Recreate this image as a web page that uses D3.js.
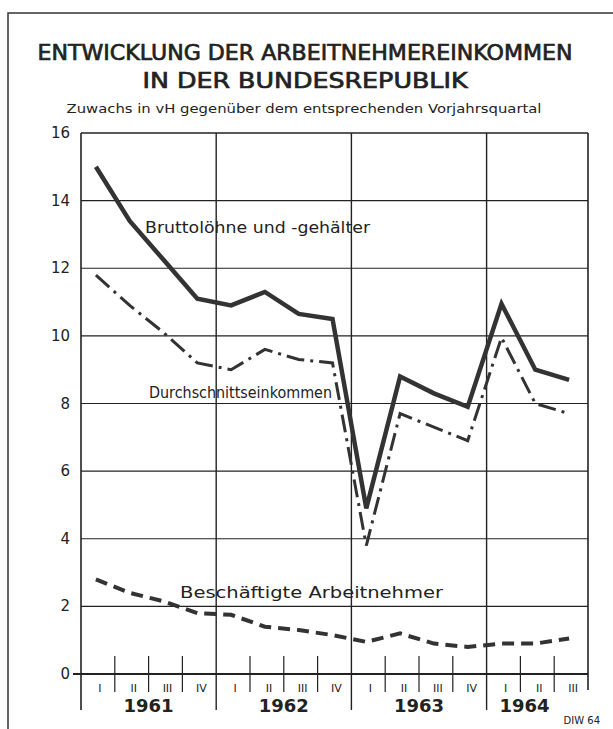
<!DOCTYPE html>
<html>
<head>
<meta charset="utf-8">
<script src="https://cdn.jsdelivr.net/npm/d3@7"></script>
<style>
  body { margin: 0; background: #fff; }
  svg text { font-family: "DejaVu Sans", "Noto Sans", sans-serif; fill: #222; }
</style>
</head>
<body>
<div id="chart"></div>
<script>
// Quarters 1961 I .. 1964 III
const years = ["1961", "1962", "1963", "1964"];
const quarterLabels = ["I", "II", "III", "IV", "I", "II", "III", "IV", "I", "II", "III", "IV", "I", "II", "III"];
const yTicks = [0, 2, 4, 6, 8, 10, 12, 14, 16];

// Zuwachs in vH
const brutto = [15.0, 13.4, 12.25, 11.1, 10.9, 11.3, 10.65, 10.5, 4.9, 8.8, 8.3, 7.9, 10.95, 9.0, 8.7];
const durchschnitt = [11.8, 10.9, 10.1, 9.2, 9.0, 9.6, 9.3, 9.2, 3.8, 7.7, 7.3, 6.9, 9.95, 8.0, 7.7];
const beschaeftigte = [2.8, 2.4, 2.15, 1.8, 1.75, 1.4, 1.3, 1.15, 0.95, 1.2, 0.9, 0.8, 0.9, 0.9, 1.05];

function main() {
    const W = 613, H = 729;
    const svg = d3.select("#chart").append("svg")
        .attr("width", W).attr("height", H);

    const left = 81, right = 588, top = 133, bottom = 674;

    // quarter index -> x (boundaries)
    const xb = d3.scaleLinear().domain([0, 15]).range([left, right]);
    const x = i => xb(i + 0.5) - 2;
    const y = d3.scaleLinear().domain([0, 16]).range([bottom, top]);

    // outer frame (left + top)
    svg.append("path")
        .attr("d", `M8,729 L8,13 L613,13`)
        .attr("fill", "none").attr("stroke", "#333").attr("stroke-width", 1.5);

    // titles
    svg.append("text").attr("x", 305).attr("y", 60)
        .attr("text-anchor", "middle").attr("font-size", 21)
        .attr("font-family", "Roboto").attr("stroke", "#222").attr("stroke-width", 0.7)
        .attr("textLength", 535).attr("lengthAdjust", "spacingAndGlyphs")
        .text("ENTWICKLUNG DER ARBEITNEHMEREINKOMMEN");
    svg.append("text").attr("x", 305).attr("y", 88)
        .attr("text-anchor", "middle").attr("font-size", 21)
        .attr("font-family", "Roboto").attr("stroke", "#222").attr("stroke-width", 0.7)
        .attr("textLength", 325).attr("lengthAdjust", "spacingAndGlyphs")
        .text("IN DER BUNDESREPUBLIK");
    svg.append("text").attr("x", 304).attr("y", 113)
        .attr("text-anchor", "middle").attr("font-size", 13)
        .attr("textLength", 475).attr("lengthAdjust", "spacingAndGlyphs")
        .text("Zuwachs in vH gegenüber dem entsprechenden Vorjahrsquartal");

    // horizontal grid
    svg.append("g").selectAll("line")
        .data(yTicks.filter(d => d > 0))
        .enter().append("line")
        .attr("x1", left).attr("x2", right)
        .attr("y1", d => y(d)).attr("y2", d => y(d))
        .attr("stroke", "#222").attr("stroke-width", d => d === 16 ? 1.6 : 1.2);

    // y axis labels
    svg.append("g").selectAll("text")
        .data(yTicks)
        .enter().append("text")
        .attr("x", 70).attr("y", d => y(d) + 5)
        .attr("text-anchor", "end").attr("font-size", 15)
        .text(d => d);

    // zero axis
    svg.append("line")
        .attr("x1", left - 8).attr("x2", right)
        .attr("y1", y(0)).attr("y2", y(0))
        .attr("stroke", "#222").attr("stroke-width", 2);

    // left and right plot edges
    svg.append("line").attr("x1", left).attr("x2", left)
        .attr("y1", top).attr("y2", 710)
        .attr("stroke", "#222").attr("stroke-width", 1.6);
    svg.append("line").attr("x1", right).attr("x2", right)
        .attr("y1", top).attr("y2", 690)
        .attr("stroke", "#222").attr("stroke-width", 1.6);

    // year separators
    svg.append("g").selectAll("line")
        .data([4, 8, 12])
        .enter().append("line")
        .attr("x1", d => xb(d)).attr("x2", d => xb(d))
        .attr("y1", top).attr("y2", 710)
        .attr("stroke", "#222").attr("stroke-width", 1.4);

    // quarter ticks
    const qTicks = d3.range(1, 15).filter(i => i % 4 !== 0);
    svg.append("g").selectAll("line")
        .data(qTicks)
        .enter().append("line")
        .attr("x1", d => xb(d)).attr("x2", d => xb(d))
        .attr("y1", 656).attr("y2", 692)
        .attr("stroke", "#222").attr("stroke-width", 1.2);

    // quarter labels
    svg.append("g").selectAll("text")
        .data(quarterLabels)
        .enter().append("text")
        .attr("x", (d, i) => xb(i + 0.5) + 2).attr("y", 692)
        .attr("text-anchor", "middle").attr("font-size", 11)
        .attr("font-family", "DejaVu Sans Condensed")
        .text(d => d);

    // year labels
    svg.append("g").selectAll("text")
        .data(years)
        .enter().append("text")
        .attr("x", (d, i) => i < 3 ? xb(i * 4 + 2) : xb(12) + 38)
        .attr("y", 712)
        .attr("text-anchor", "middle").attr("font-size", 18).attr("font-weight", "bold")
        .text(d => d);

    // lines
    const line = d3.line().x((d, i) => x(i)).y(d => y(d));
    svg.append("path").datum(brutto)
        .attr("d", line).attr("fill", "none")
        .attr("stroke", "#333").attr("stroke-width", 4.5)
        .attr("stroke-linejoin", "miter");
    svg.append("path").datum(durchschnitt)
        .attr("d", line).attr("fill", "none")
        .attr("stroke", "#333").attr("stroke-width", 3)
        .attr("stroke-dasharray", "18,6,3,6");
    svg.append("path").datum(beschaeftigte)
        .attr("d", line).attr("fill", "none")
        .attr("stroke", "#333").attr("stroke-width", 4)
        .attr("stroke-dasharray", "12,7");

    // series labels
    const lab = (t, lx, ly, len) => svg.append("text")
        .attr("x", lx).attr("y", ly).attr("font-size", 16)
        .attr("font-family", "Roboto").attr("font-weight", 400)
        .attr("textLength", len).attr("lengthAdjust", "spacingAndGlyphs")
        .text(t);
    lab("Bruttolöhne und -gehälter", 145, 233, 225);
    lab("Durchschnittseinkommen", 149, 398, 183);
    lab("Beschäftigte Arbeitnehmer", 180, 598, 263);

    // source
    svg.append("text").attr("x", 600).attr("y", 724)
        .attr("text-anchor", "end").attr("font-size", 10)
        .text("DIW 64");
}

main();
</script>
</body>
</html>
